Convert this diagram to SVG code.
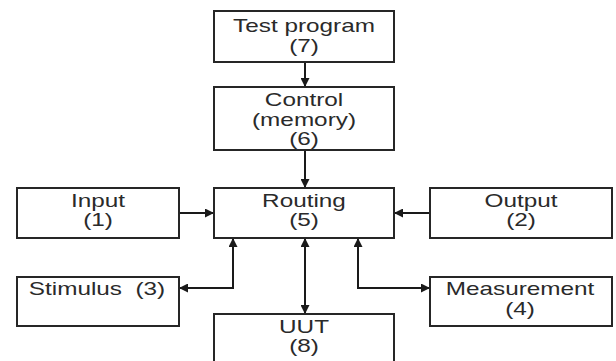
<svg xmlns="http://www.w3.org/2000/svg" width="616" height="361" viewBox="0 0 616 361">
  <defs>
    <style>
      .box { fill: #ffffff; stroke: #262626; stroke-width: 2; }
      .wire { fill: none; stroke: #1a1a1a; stroke-width: 2; }
      .lbl { font-family: "Liberation Sans", Arial, sans-serif; font-size: 17.5px; fill: #2a2a2a; text-anchor: middle; }
    </style>
    <marker id="head" viewBox="0 0 10 10" refX="10" refY="5" markerWidth="9" markerHeight="9" markerUnits="userSpaceOnUse" orient="auto-start-reverse">
      <path d="M0,0 L10,5 L0,10 z" fill="#1a1a1a"/>
    </marker>
  </defs>

  <rect width="616" height="361" fill="#ffffff"/>

  <!-- connectors -->
  <g id="connectors">
    <line class="wire" x1="305" y1="62" x2="305" y2="87" marker-end="url(#head)"/>
    <line class="wire" x1="305" y1="150" x2="305" y2="188" marker-end="url(#head)"/>
    <line class="wire" x1="179" y1="213" x2="214" y2="213" marker-end="url(#head)"/>
    <line class="wire" x1="430" y1="213" x2="394" y2="213" marker-end="url(#head)"/>
    <line class="wire" x1="305" y1="238" x2="305" y2="314" marker-start="url(#head)" marker-end="url(#head)"/>
    <polyline class="wire" points="233,238 233,288 179,288" marker-start="url(#head)" marker-end="url(#head)"/>
    <polyline class="wire" points="358,238 358,288 430,288" marker-start="url(#head)" marker-end="url(#head)"/>
  </g>

  <!-- Test program (7) -->
  <g id="test-program">
    <rect class="box" x="214" y="11" width="180" height="51"/>
    <text class="lbl" transform="translate(304,32) scale(1.39,1)">Test program</text>
    <text class="lbl" transform="translate(304,52) scale(1.39,1)">(7)</text>
  </g>

  <!-- Control (memory) (6) -->
  <g id="control">
    <rect class="box" x="214" y="87" width="180" height="63"/>
    <text class="lbl" transform="translate(304,106) scale(1.39,1)">Control</text>
    <text class="lbl" transform="translate(304,126) scale(1.39,1)">(memory)</text>
    <text class="lbl" transform="translate(304,145) scale(1.39,1)">(6)</text>
  </g>

  <!-- Routing (5) -->
  <g id="routing">
    <rect class="box" x="214" y="188" width="180" height="50"/>
    <text class="lbl" transform="translate(304,207) scale(1.39,1)">Routing</text>
    <text class="lbl" transform="translate(304,226) scale(1.39,1)">(5)</text>
  </g>

  <!-- Input (1) -->
  <g id="input">
    <rect class="box" x="17" y="188" width="162" height="50"/>
    <text class="lbl" transform="translate(98,207) scale(1.39,1)">Input</text>
    <text class="lbl" transform="translate(98,226) scale(1.39,1)">(1)</text>
  </g>

  <!-- Output (2) -->
  <g id="output">
    <rect class="box" x="430" y="188" width="182" height="50"/>
    <text class="lbl" transform="translate(521,207) scale(1.39,1)">Output</text>
    <text class="lbl" transform="translate(521,226) scale(1.39,1)">(2)</text>
  </g>

  <!-- Stimulus (3) -->
  <g id="stimulus">
    <rect class="box" x="17" y="277" width="162" height="49"/>
    <text class="lbl" xml:space="preserve" transform="translate(97,295) scale(1.39,1)">Stimulus  (3)</text>
  </g>

  <!-- Measurement (4) -->
  <g id="measurement">
    <rect class="box" x="430" y="277" width="182" height="49"/>
    <text class="lbl" transform="translate(520,295) scale(1.39,1)">Measurement</text>
    <text class="lbl" transform="translate(520,315) scale(1.39,1)">(4)</text>
  </g>

  <!-- UUT (8) -->
  <g id="uut">
    <rect class="box" x="214" y="314" width="180" height="60"/>
    <text class="lbl" transform="translate(304,333) scale(1.39,1)">UUT</text>
    <text class="lbl" transform="translate(304,352) scale(1.39,1)">(8)</text>
  </g>
</svg>
